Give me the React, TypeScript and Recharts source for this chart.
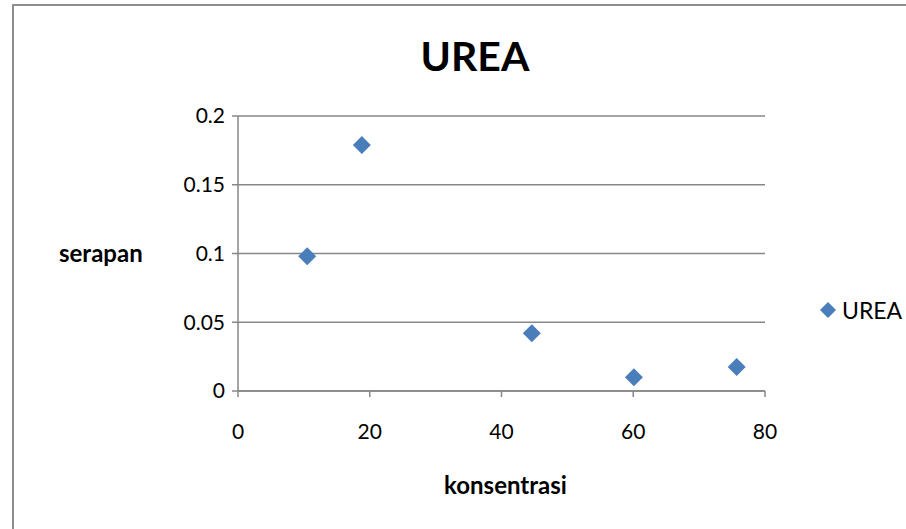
import { ScatterChart, Scatter, XAxis, YAxis, CartesianGrid } from 'recharts';

const konsentrasi = [10.5, 18.8, 44.6, 60.1, 75.7];
const serapan = [0.098, 0.179, 0.042, 0.010, 0.0175];
const xTicks = [0, 20, 40, 60, 80];
const yTicks = [0, 0.05, 0.1, 0.15, 0.2];

const data = konsentrasi.map((x, i) => ({ x, y: serapan[i] }));

const FONT = 'Lato, "Liberation Sans", sans-serif';
const BLUE = '#4a7ebb';
const GRID = '#878787';

const Diamond = (props: any) => {
  const { cx, cy } = props;
  const r = 9;
  return (
    <polygon
      points={`${cx},${cy - r} ${cx + r},${cy} ${cx},${cy + r} ${cx - r},${cy}`}
      fill={BLUE}
    />
  );
};

const App = () => {
  return (
    <div style={{ position: 'absolute', left: 0, top: 0, width: 906, height: 529, overflow: 'hidden', background: '#fff' }}>
      <div style={{ position: 'absolute', left: 12, top: 4, width: 1000, height: 1000, border: '2px solid #8e8e8e' }} />
      <div
        style={{
          position: 'absolute', left: 0, width: 950, top: 28, textAlign: 'center',
          fontFamily: FONT, fontWeight: 'bold', fontSize: 41, color: '#000', lineHeight: '56px',
        }}
      >
        UREA
      </div>
      <div style={{ position: 'absolute', left: 0, top: 0 }}>
        <ScatterChart width={906} height={529} margin={{ top: 116, right: 141, bottom: 0, left: 0 }}>
          <CartesianGrid vertical={false} stroke={GRID} strokeWidth={1.5} />
          <XAxis
            type="number"
            dataKey="x"
            domain={[0, 80]}
            ticks={xTicks}
            height={138}
            stroke={GRID}
            strokeWidth={1.5}
            tickSize={6}
            tickMargin={27}
            tick={{ fill: '#000', fontFamily: FONT, fontSize: 21 }}
            label={{ value: 'konsentrasi', position: 'insideBottom', offset: 35, dx: 4, fill: '#000', fontFamily: FONT, fontSize: 24, fontWeight: 'bold' }}
          />
          <YAxis
            type="number"
            dataKey="y"
            domain={[0, 0.2]}
            ticks={yTicks}
            width={238}
            stroke={GRID}
            strokeWidth={1.5}
            tickSize={6}
            tickMargin={7}
            tick={{ fill: '#000', fontFamily: FONT, fontSize: 21 }}
            label={{ value: 'serapan', position: 'insideLeft', offset: 59, angle: 0, fill: '#000', fontFamily: FONT, fontSize: 24, fontWeight: 'bold' }}
          />
          <Scatter name="UREA" data={data} fill={BLUE} shape={<Diamond />} isAnimationActive={false} />
        </ScatterChart>
      </div>
      <div
        style={{
          position: 'absolute', left: 819, top: 295, display: 'flex', alignItems: 'center',
          fontFamily: FONT, fontSize: 23, color: '#000', lineHeight: '30px',
        }}
      >
        <svg width={18} height={18} style={{ marginRight: 5 }}>
          <polygon points="9,1 17,9 9,17 1,9" fill={BLUE} />
        </svg>
        <span>UREA</span>
      </div>
    </div>
  );
};

export default App;
